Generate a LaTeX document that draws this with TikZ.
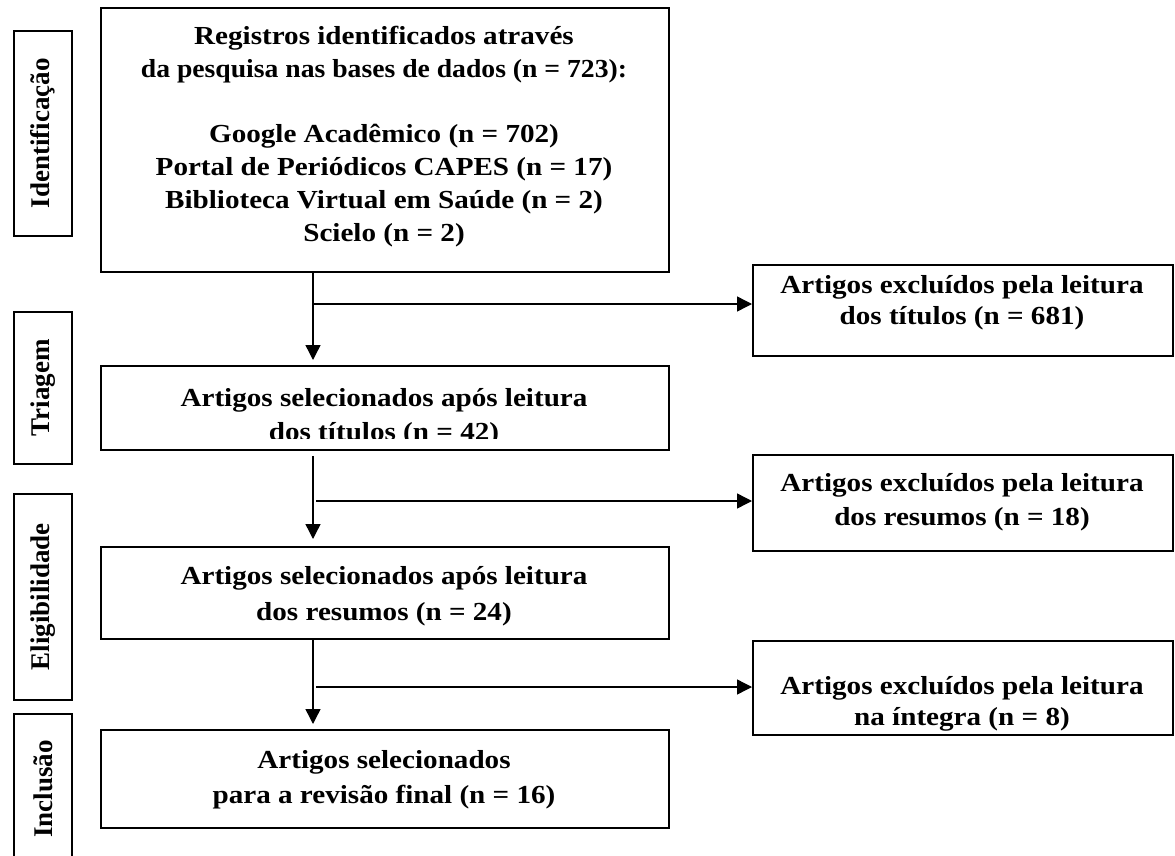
\documentclass[tikz,border=0pt]{standalone}
\usepackage{fontspec}
\setmainfont{Liberation Serif}
\newfontfamily\widebf{Liberation Serif}[FakeStretch=1.12]
\usetikzlibrary{arrows.meta}
\begin{document}
\begin{tikzpicture}[x=1pt,y=-1pt,
  box/.style={draw, line width=1.8pt, inner sep=0pt, minimum width=568pt, anchor=north west},
  rbox/.style={draw, line width=1.8pt, inner sep=0pt, minimum width=420pt, anchor=north west},
  phase/.style={draw, line width=1.8pt, inner sep=0pt, minimum width=58pt, anchor=north west},
  txt/.style={align=center, font=\widebf\fontsize{26}{#1}\selectfont\bfseries, inner sep=0pt, anchor=base},
  ptxt/.style={rotate=90, font=\fontsize{27}{30}\selectfont\bfseries, inner sep=0pt},
  arr/.style={line width=1.4pt, -{Triangle[length=15pt,width=15pt]}}]
\useasboundingbox (0,0) rectangle (1175,856);
% phase boxes
\node[phase, minimum height=205pt] (p1) at (13,30) {};
\node[ptxt] (p1t) at (p1.center) {Identificação};
\node[phase, minimum height=152pt] (p2) at (13,311) {};
\node[ptxt] (p2t) at (p2.center) {Triagem};
\node[phase, minimum height=206pt] (p3) at (13,493) {};
\node[ptxt] (p3t) at (p3.center) {Eligibilidade};
\node[phase, minimum height=150pt] (p4) at (13,713) {};
\node[ptxt] (p4t) at (p4.center) {Inclusão};
% main boxes
\node[box, minimum height=264pt] (b1) at (100,7) {};
\node[txt=32.8] (b1t) at (384,241) {Registros identificados através\\\scalebox{0.95}[1]{da pesquisa nas bases de dados (n = 723):}\\[32.8pt]Google Acadêmico (n = 702)\\Portal de Periódicos CAPES (n = 17)\\Biblioteca Virtual em Saúde (n = 2)\\Scielo (n = 2)};
\node[box, minimum height=84pt] (b2) at (100,365) {};
\begin{scope}
\clip (100,365) rectangle (668,438.5);
\node[txt=34] (b2t) at (384,440) {Artigos selecionados após leitura\\dos títulos (n = 42)};
\end{scope}
\node[box, minimum height=92pt] (b3) at (100,546) {};
\node[txt=36] (b3t) at (384,620) {Artigos selecionados após leitura\\dos resumos (n = 24)};
\node[box, minimum height=98pt] (b4) at (100,729) {};
\node[txt=35] (b4t) at (384,803) {Artigos selecionados\\para a revisão final (n = 16)};
% right boxes
\node[rbox, minimum height=91pt] (r1) at (752,264) {};
\node[txt=31] (r1t) at (962,324) {Artigos excluídos pela leitura\\dos títulos (n = 681)};
\node[rbox, minimum height=96pt] (r2) at (752,454) {};
\node[txt=34] (r2t) at (962,525) {Artigos excluídos pela leitura\\dos resumos (n = 18)};
\node[rbox, minimum height=94pt] (r3) at (752,640) {};
\node[txt=31] (r3t) at (962,725) {Artigos excluídos pela leitura\\na íntegra (n = 8)};
% connectors
\coordinate (cx) at (313,0);
\coordinate (j1) at (313,304);
\coordinate (j2) at (316,501);
\coordinate (j3) at (316,687);
\draw[arr, shorten >=5pt] (b1.south -| cx) -- (b2.north -| cx);
\draw[arr] (j1) -- (j1 -| r1.west);
\draw[arr, shorten <=5pt, shorten >=7pt] (b2.south -| cx) -- (b3.north -| cx);
\draw[arr] (j2) -- (j2 -| r2.west);
\draw[arr, shorten >=5pt] (b3.south -| cx) -- (b4.north -| cx);
\draw[arr] (j3) -- (j3 -| r3.west);
\end{tikzpicture}
\end{document}
